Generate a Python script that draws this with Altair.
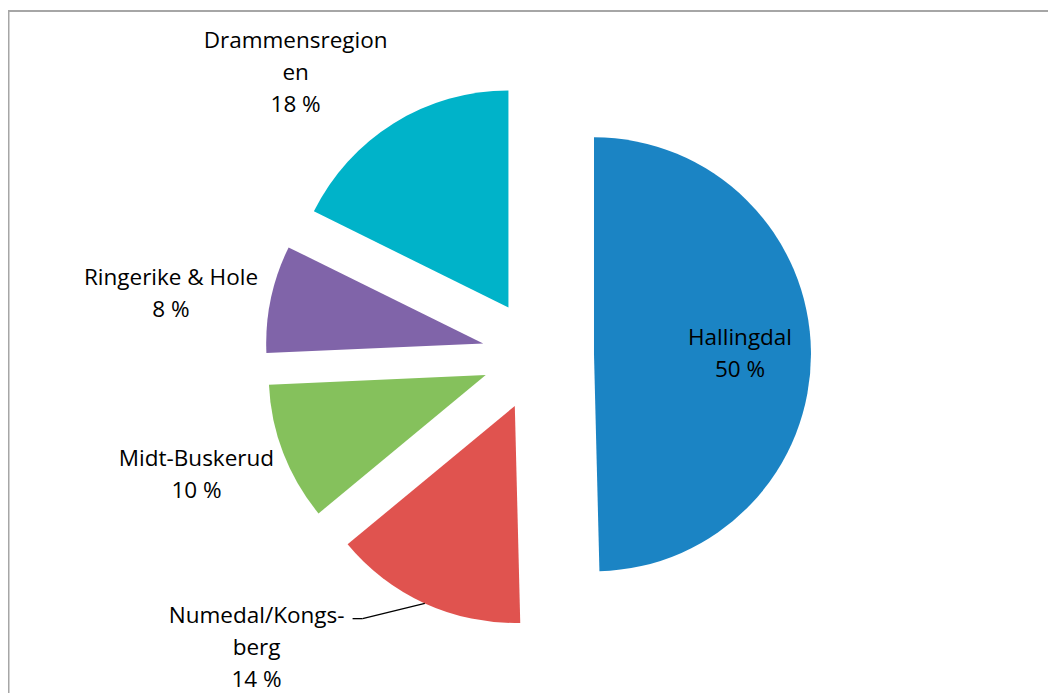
import altair as alt
import pandas as pd

# ---- data ----
regions = ["Hallingdal", "Numedal/Kongsberg", "Midt-Buskerud", "Ringerike & Hole", "Drammensregionen"]
shares = [49.6, 14.4, 10.3, 8.0, 17.7]
# label text as wrapped in the chart ("|" = line break)
wrapped = ["Hallingdal", "Numedal/Kongs-|berg", "Midt-Buskerud", "Ringerike & Hole", "Drammensregion|en"]
colors = ["#1B84C4", "#E0534F", "#85C15C", "#8064A9", "#00B3C9"]

# ---- layout (styling, not data) ----
W, H = 1040, 685
CX, CY = 530, 347      # pie centre in plot pixels
R = 217                # pie radius
EXPLODE = 56           # explode distance
LH = 32                # label line height
# label placement: polar radius from pie centre and angular nudge (deg) from slice bisector
label_radius = [202, 406, 362, 372, 372]
label_shift = [0.4, 19.4, 1.7, -2.5, -8.8]

df = pd.DataFrame({
    "idx": list(range(len(regions))),
    "region": regions,
    "value": shares,
    "wrapped": wrapped,
    "lr": label_radius,
    "ls": label_shift,
})

base = alt.Chart(df).transform_joinaggregate(
    total="sum(value)"
).transform_window(
    cum="sum(value)", sort=[alt.SortField("idx")], frame=[None, 0]
).transform_calculate(
    t0="(datum.cum - datum.value) / datum.total * 2 * PI",
    t1="datum.cum / datum.total * 2 * PI",
).transform_calculate(
    mid="(datum.t0 + datum.t1) / 2",
).transform_calculate(
    cx=f"{CX} + {EXPLODE} * sin(datum.mid)",
    cy=f"{CY} - {EXPLODE} * cos(datum.mid)",
    lang="datum.mid + datum.ls * PI / 180",
    label="datum.wrapped + '|' + format(round(datum.value), 'd') + ' %'",
).transform_calculate(
    nlines="length(split(datum.label, '|'))",
    lx=f"{CX} + datum.lr * sin(datum.lang)",
).transform_calculate(
    ly=f"{CY} - datum.lr * cos(datum.lang)",
).transform_calculate(
    ly0=f"datum.ly - (datum.nlines - 1) * {LH} / 2",
)

color_scale = alt.Scale(domain=regions, range=colors)

slices = base.mark_arc(radius=R).encode(
    theta=alt.Theta("t0:Q", scale=None),
    theta2="t1:Q",
    x=alt.X("cx:Q", scale=None),
    y=alt.Y("cy:Q", scale=None),
    color=alt.Color("region:N", scale=color_scale, legend=None),
)

labels = base.mark_text(
    font="Open Sans", fontSize=22.5, color="#000000", align="center",
    baseline="middle", lineBreak="|", lineHeight=LH,
).encode(
    x=alt.X("lx:Q", scale=None),
    y=alt.Y("ly0:Q", scale=None),
    text="label:N",
)

# leader line for the Numedal/Kongsberg label
lead = base.transform_filter(
    alt.datum.region == "Numedal/Kongsberg"
).transform_calculate(
    ax=f"datum.cx + {R} * sin(datum.mid)",
    ay=f"datum.cy - {R} * cos(datum.mid)",
    kx="datum.lx + 106",
    ky="datum.ly - 29",
    ex="datum.lx + 96",
)
lead1 = lead.mark_rule(color="#000000", strokeWidth=1.3).encode(
    x=alt.X("ax:Q", scale=None), y=alt.Y("ay:Q", scale=None),
    x2="kx:Q", y2="ky:Q",
)
lead2 = lead.mark_rule(color="#000000", strokeWidth=1.3).encode(
    x=alt.X("kx:Q", scale=None), y=alt.Y("ky:Q", scale=None),
    x2="ex:Q", y2="ky:Q",
)

frame_df = pd.DataFrame({"k": [0]})
border_top = alt.Chart(frame_df).mark_rule(color="#A6A6A6", strokeWidth=2).encode(
    x=alt.value(0), x2=alt.value(W), y=alt.value(3)
)
border_left = alt.Chart(frame_df).mark_rule(color="#A6A6A6", strokeWidth=2).encode(
    x=alt.value(0.5), y=alt.value(2), y2=alt.value(H)
)

chart = alt.layer(border_top, border_left, slices, labels, lead1, lead2).properties(
    width=W, height=H, padding=0, autosize=alt.AutoSizeParams(type="none"),
    background="#FFFFFF",
).configure_view(stroke=None)

chart.save("out.html", embed_options={"renderer": "svg", "actions": False})
